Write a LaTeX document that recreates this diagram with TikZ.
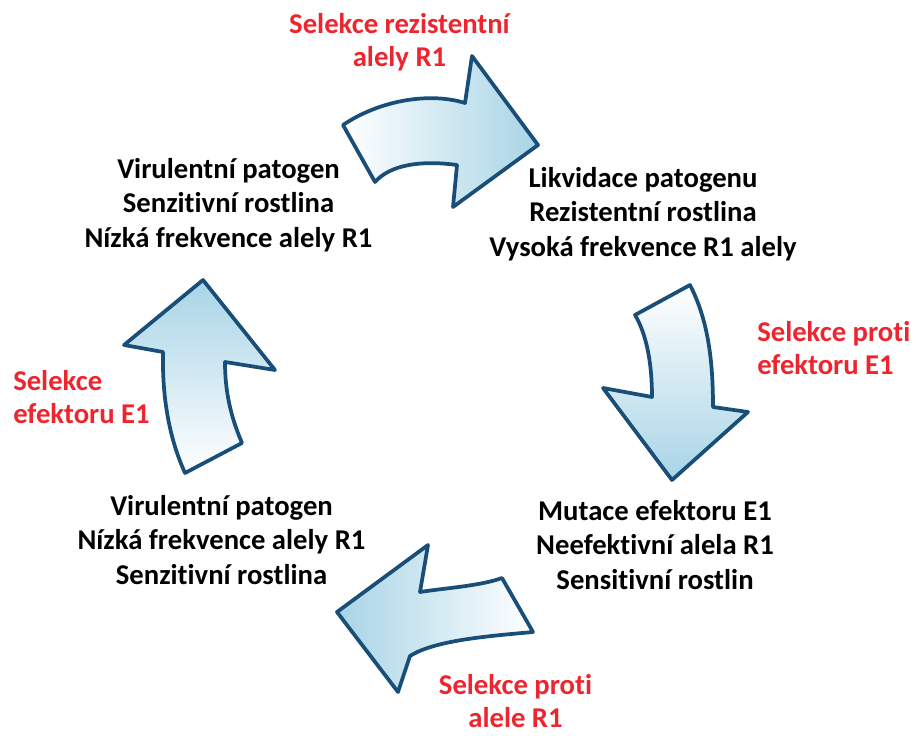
\documentclass[tikz,border=0pt]{standalone}
\usepackage{fontspec}
\setmainfont[Ligatures=NoCommon]{Carlito}
\definecolor{arrowline}{RGB}{24,78,120}
\definecolor{arrowfill}{RGB}{168,212,230}
\definecolor{selred}{RGB}{238,36,46}
\tikzset{
  cyclearrow/.style={draw=arrowline, line width=2.8pt, line join=round},
  statetext/.style={align=center, inner sep=0pt, font=\fontsize{21.5}{25.9}\selectfont\bfseries, text=black},
  seltext/.style={inner sep=0pt, font=\fontsize{21.5}{24.6}\selectfont\bfseries, text=selred},
}
\begin{document}
\begin{tikzpicture}[x=0.75pt, y=-0.75pt]
\useasboundingbox (0,0) rectangle (916,735);
% top arrow (left -> right)
\path[cyclearrow, left color=white, right color=arrowfill]
  (343,125) .. controls (380,100) and (430,92) .. (465,103)
  -- (472,56) -- (538,145) -- (453,207) -- (457,165)
  .. controls (420,160) and (390,165) .. (375,182) -- cycle;
% right arrow (top -> bottom)
\path[cyclearrow, top color=white, bottom color=arrowfill]
  (635,315) -- (690,285) .. controls (708,320) and (713,360) .. (713,407)
  -- (748,412) -- (672,480) -- (603,388) -- (652,397)
  .. controls (652,365) and (647,335) .. (635,315) -- cycle;
% bottom arrow (right -> left)
\path[cyclearrow, right color=white, left color=arrowfill]
  (502,578) -- (533,632) .. controls (490,636) and (435,640) .. (410,656)
  -- (398,692) -- (337,612) -- (428,545) -- (420,592)
  .. controls (445,588) and (480,586) .. (502,578) -- cycle;
% left arrow (bottom -> top)
\path[cyclearrow, bottom color=white, top color=arrowfill]
  (185,473) -- (242,443) .. controls (230,415) and (225,390) .. (225,362)
  -- (275,370) -- (203,280) -- (124,345) -- (163,352)
  .. controls (162,400) and (170,440) .. (185,473) -- cycle;
% states
\node[statetext] (tl) at (228.5,205) {Virulentní patogen\\Senzitivní rostlina\\Nízká frekvence alely R1};
\node[statetext] (tr) at (643,214) {Likvidace patogenu\\Rezistentní rostlina\\Vysoká frekvence R1 alely};
\node[statetext] (br) at (655,545) {Mutace efektoru E1\\Neefektivní alela R1\\Sensitivní rostlin};
\node[statetext] (bl) at (221.5,540) {Virulentní patogen\\Nízká frekvence alely R1\\Senzitivní rostlina};
% selections
\node[seltext, align=center] (stop) at (399.5,42) {Selekce rezistentní\\alely R1};
\node[seltext, align=left, anchor=west] (sright) at (757,348) {Selekce proti\\efektoru E1};
\node[seltext, align=left, anchor=west] (sleft) at (13,397) {Selekce\\efektoru E1};
\node[seltext, align=center] (sbottom) at (515.5,701) {Selekce proti\\alele R1};
\end{tikzpicture}
\end{document}
